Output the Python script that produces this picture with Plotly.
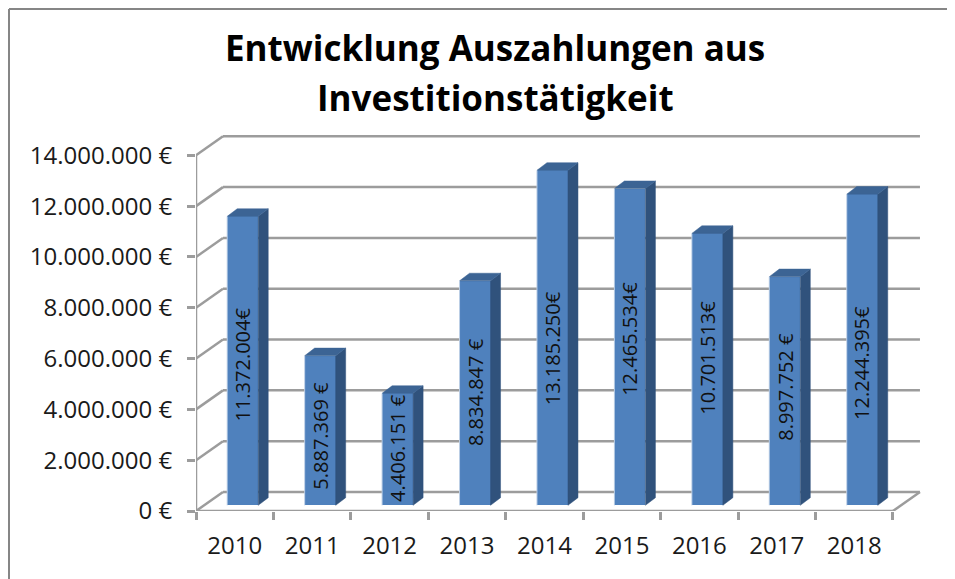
import plotly.graph_objects as go

years = ["2010", "2011", "2012", "2013", "2014", "2015", "2016", "2017", "2018"]
values = [11372004, 5887369, 4406151, 8834847, 13185250, 12465534, 10701513, 8997752, 12244395]
value_labels = ["11.372.004€", "5.887.369 €", "4.406.151 €", "8.834.847 €", "13.185.250€",
                "12.465.534€", "10.701.513€", "8.997.752 €", "12.244.395€"]
y_ticks = [0, 2000000, 4000000, 6000000, 8000000, 10000000, 12000000, 14000000]
y_tick_labels = ["0 €", "2.000.000 €", "4.000.000 €", "6.000.000 €", "8.000.000 €",
                 "10.000.000 €", "12.000.000 €", "14.000.000 €"]
title_lines = ["Entwicklung Auszahlungen aus", "Investitionstätigkeit"]

# pixel geometry: the page body has an 8 px margin, so the figure is 8 px smaller and offset
OFF = 8
W, H = 955 - OFF, 579 - OFF
L, R, T, B = 196 - OFF, 921 - OFF, 135 - OFF, 511 - OFF
PX_X = 77.44
PX_Y = 355.7 / 14e6
def ux(px): return px / PX_X
def uy(px): return px / PX_Y

x_max = (R - L) / PX_X
y_max = (B - T) / PX_Y
WALL_DX, WALL_DY = ux(27), uy(19)
BAR_W = ux(31)
BAR_OFF_X, BAR_OFF_Y = ux(8), uy(5.7)
DEPTH_X, DEPTH_Y = ux(10), uy(7.6)
LABEL_SHIFT = [-4, -5, 1, 1, -10, 8, 12, 4, -13]

GRID = "#9c9c9c"
FRONT, SIDE, TOP, EDGE = "#4f81bd", "#30527c", "#3c6494", "#b9cde5"
FONT = "Open Sans"

centers = [i + 0.5 + BAR_OFF_X for i in range(len(years))]
fig = go.Figure()

fig.add_trace(go.Bar(x=centers, y=values, base=BAR_OFF_Y, width=BAR_W,
                     marker=dict(color=FRONT, line=dict(width=0)), hoverinfo="skip", showlegend=False))

def poly(xs, ys, color):
    fig.add_trace(go.Scatter(x=xs, y=ys, mode="lines", fill="toself", fillcolor=color,
                             line=dict(color=color, width=0.5), hoverinfo="skip", showlegend=False))

for c, v in zip(centers, values):
    l, r = c - BAR_W / 2, c + BAR_W / 2
    b, t = BAR_OFF_Y, BAR_OFF_Y + v
    poly([r, r + DEPTH_X, r + DEPTH_X, r, r], [b, b + DEPTH_Y, t + DEPTH_Y, t, b], SIDE)
    poly([l, r, r + DEPTH_X, l + DEPTH_X, l], [t, t, t + DEPTH_Y, t + DEPTH_Y, t], TOP)
    fig.add_trace(go.Scatter(x=[l, l], y=[b, t], mode="lines", line=dict(color=EDGE, width=1),
                             hoverinfo="skip", showlegend=False))

shapes = []
def seg(x0, y0, x1, y1):
    shapes.append(dict(type="line", xref="x", yref="y", x0=x0, y0=y0, x1=x1, y1=y1,
                       layer="below", line=dict(color=GRID, width=2.5)))

for v in y_ticks:
    seg(WALL_DX, v + WALL_DY, len(years) + WALL_DX, v + WALL_DY)
    seg(0, v, WALL_DX, v + WALL_DY)
seg(0, 0, 0, y_ticks[-1])
seg(0, 0, len(years), 0)
seg(len(years), 0, len(years) + WALL_DX, WALL_DY)

# outer chart frame (screen pixels)
for x0, y0, x1, y1 in [(9, 9, 955, 9), (9, 9, 9, 579)]:
    shapes.append(dict(type="line", xref="paper", yref="paper",
                       x0=(x0 - OFF - L) / (R - L), x1=(x1 - OFF - L) / (R - L),
                       y0=(B - (y0 - OFF)) / (B - T), y1=(B - (y1 - OFF)) / (B - T),
                       line=dict(color="#868686", width=2)))

annotations = []
for c, v, s, shift in zip(centers, values, value_labels, LABEL_SHIFT):
    annotations.append(dict(x=c, y=BAR_OFF_Y + v / 2, text=s, textangle=-90, showarrow=False,
                            xanchor="center", yanchor="middle", yshift=shift,
                            font=dict(family=FONT, size=20, color="#111111")))
for line, py in zip(title_lines, [47.5, 97.5]):
    annotations.append(dict(xref="paper", yref="paper", x=(495 - OFF - L) / (R - L), y=(B - (py - OFF)) / (B - T),
                            text="<b>%s</b>" % line, showarrow=False, xanchor="center", yanchor="middle",
                            font=dict(family=FONT, size=35, color="#000000")))

fig.update_layout(
    width=W, height=H, autosize=False,
    margin=dict(l=L, r=W - R, t=T, b=H - B, pad=0),
    paper_bgcolor="white", plot_bgcolor="white",
    showlegend=False, bargap=0,
    font=dict(family=FONT, color="#1a1a1a"),
    shapes=shapes, annotations=annotations,
    xaxis=dict(range=[0, x_max], tickmode="array", tickvals=[i + 0.5 for i in range(len(years))],
               ticktext=years, ticks="", showgrid=False, zeroline=False, showline=False,
               tickfont=dict(family=FONT, size=24), ticklabelstandoff=18,
               minor=dict(ticks="outside", ticklen=8, tickwidth=2.5, tickcolor=GRID,
                          tick0=0, dtick=1, showgrid=False)),
    yaxis=dict(range=[0, y_max], tickmode="array", tickvals=y_ticks, ticktext=y_tick_labels,
               ticks="outside", ticklen=8, tickwidth=2.5, tickcolor=GRID, showgrid=False,
               zeroline=False, showline=False, ticklabelstandoff=10,
               tickfont=dict(family=FONT, size=24)),
)
fig.write_html("out.html")
